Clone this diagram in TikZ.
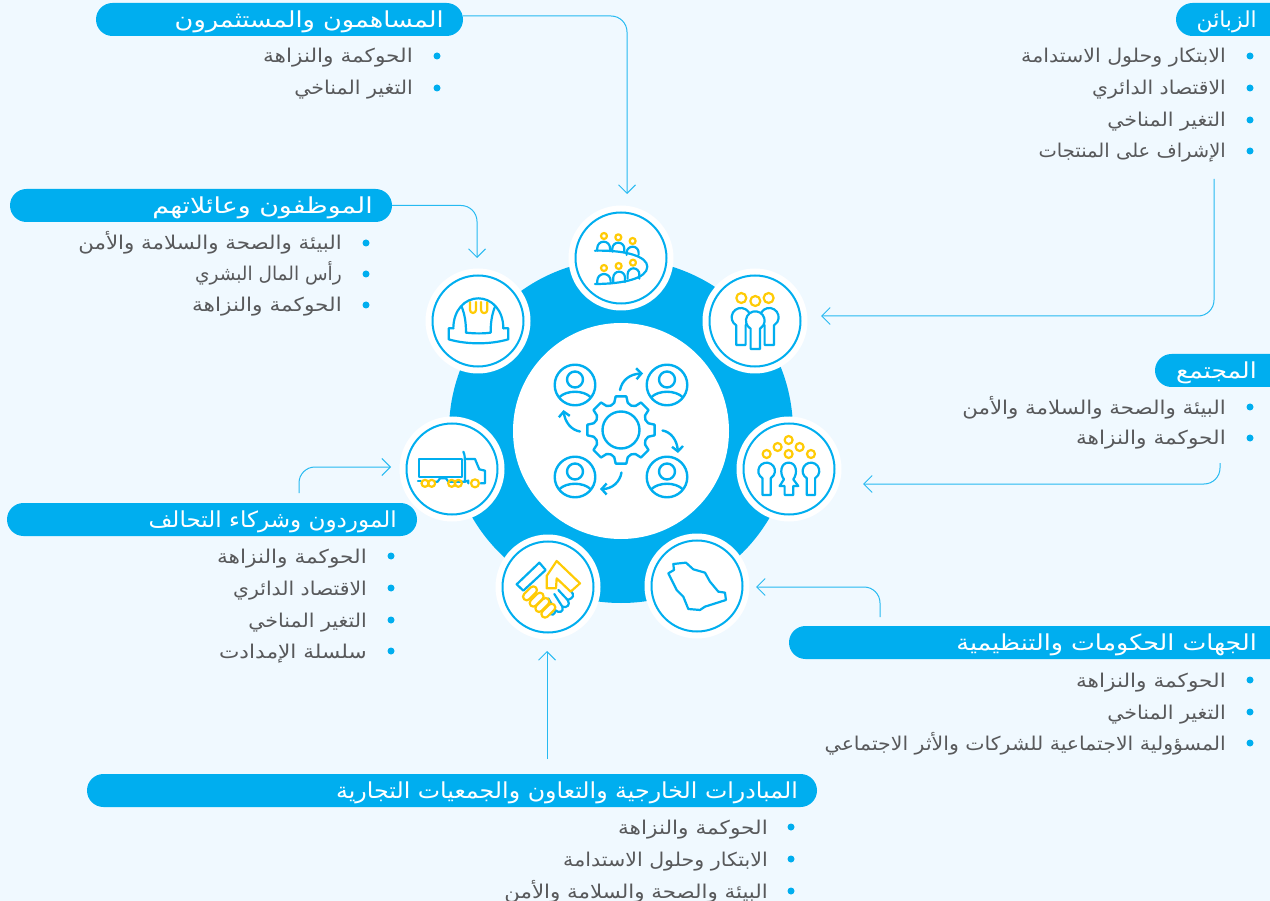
\documentclass[tikz,border=0pt]{standalone}
\usepackage{fontspec}
\usetikzlibrary{arrows.meta,calc}
\TeXXeTstate=1
\newfontfamily\arabicfont[Script=Arabic,FakeStretch=1.14]{DejaVu Sans}
\definecolor{bgc}{HTML}{F0F9FF}
\definecolor{bl}{HTML}{00AEEF}
\definecolor{yl}{HTML}{FFCB05}
\definecolor{tx}{HTML}{58595B}
\tikzset{
 x=1pt,y=-1pt,
 pillbox/.style={fill=bl,rounded corners=16.5pt,minimum height=33pt,inner sep=0pt,outer sep=0pt,anchor=north west},
 pilltext/.style={text=white,anchor=base east,inner sep=0pt,font=\arabicfont\fontsize{22}{25}\selectfont},
 itemtext/.style={text=tx,anchor=base east,inner sep=0pt,font=\arabicfont\fontsize{19}{22}\selectfont},
 dotm/.style={circle,fill=bl,minimum size=7pt,inner sep=0pt},
 halo/.style={circle,fill=white,minimum size=105pt,inner sep=0pt,outer sep=0pt},
 ringc/.style={circle,draw=bl,line width=2pt,minimum size=91pt,inner sep=0pt,outer sep=0pt},
 conn/.style={draw=bl!85!white,line width=1pt,rounded corners=16pt,-{Straight Barb[length=8.5pt,width=17pt,line width=1pt]}},
 ic/.style={draw=bl,line width=2.2pt,line join=round,line cap=round},
 iy/.style={draw=yl,line width=2.2pt,line join=round,line cap=round},
 ctr/.style={draw=bl,line width=2.4pt,line join=round,line cap=round},
 ctra/.style={ctr,-{Straight Barb[length=5pt,width=11pt,line width=2.4pt]}},
}
\newcommand\pill[6]{% name,x,y,width,textright,text
 \node[pillbox,minimum width=#4pt] (#1) at (#2,#3) {};
 \node[pilltext] (#1t) at (#5,#3+24.5) {#6};}
\newcommand\lstitem[5]{% name,bulletx,textright,y,text
 \node[dotm] (#1b) at (#2,#4) {};
 \node[itemtext] (#1t) at (#3,#4+7) {#5};}
\newcommand\hub[2]{% name, position
 \node[halo] (#1) at (#2) {};
 \node[ringc] (#1r) at (#2) {};}
\newcommand\keyh[5]{% cx cy r bottom style
 \draw[#5,fill=white] ({#1-.5*#3},#4) -- ({#1-.5*#3},{#2+.866*#3}) arc[start angle=120,end angle=420,radius=#3] -- ({#1+.5*#3},#4) -- cycle;}
\newcommand\archm[4]{% x1 x2 top base
 \draw[ic] (#1,#4) -- (#1,{#3+.5*(#2-#1)}) arc[start angle=180,end angle=360,radius={.5*(#2-#1)}] -- (#2,#4);}
\newcommand\persn[2]{%
 \draw[ctr] (#1,#2) circle[radius=20.3];
 \draw[ctr] (#1,#2-5.5) circle[radius=8];
 \draw[ctr] (#1-15.5,#2+12) .. controls (#1-8,#2+5) and (#1+8,#2+5) .. (#1+15.5,#2+12);}
\newcommand\sx[2]{\scalebox{#1}[1]{#2}}
\begin{document}
\begin{tikzpicture}
\useasboundingbox (0,0) rectangle (1270,901);
\fill[bgc] (0,0) rectangle (1270,901);
\begin{scope}
\clip (0,0) rectangle (1270,901);
% central ring
\node[circle,fill=bl,minimum size=344pt,inner sep=0pt] (ring) at (621,431) {};
\node[circle,fill=white,minimum size=216pt,inner sep=0pt] (core) at (621,431) {};
\hub{c1}{621,258}
\hub{c2}{755,321}
\hub{c3}{789,469}
\hub{c4}{697,586}
\hub{c5}{548,587}
\hub{c6}{452,469}
\hub{c7}{478,321}
% pills
\pill{p1}{96}{3}{367}{444}{\sx{1.02}{\beginR المساهمون والمستثمرون\endR}}
\pill{p2}{10}{189}{382}{373}{\sx{1.07}{\beginR الموظفون وعائلاتهم\endR}}
\pill{p3}{1176}{3}{120}{1257}{\sx{.87}{\beginR الزبائن\endR}}
\pill{p4}{1155}{354}{140}{1257}{\beginR المجتمع\endR}
\pill{p5}{7}{503}{410}{397}{\sx{.92}{\beginR الموردون وشركاء التحالف\endR}}
\pill{p6}{789}{626}{510}{1257}{\sx{1.01}{\beginR الجهات الحكومات والتنظيمية\endR}}
\pill{p7}{87}{774}{730}{798}{\sx{.945}{\beginR المبادرات الخارجية والتعاون والجمعيات التجارية\endR}}
% lists
\lstitem{a1}{437}{413}{56}{\beginR الحوكمة والنزاهة\endR}
\lstitem{a2}{437}{413}{88}{\sx{.95}{\beginR التغير المناخي\endR}}
\lstitem{b1}{366}{342}{243}{\sx{.985}{\beginR البيئة والصحة والسلامة والأمن\endR}}
\lstitem{b2}{366}{342}{274}{\sx{.855}{\beginR رأس المال البشري\endR}}
\lstitem{b3}{366}{342}{305}{\beginR الحوكمة والنزاهة\endR}
\lstitem{d1}{1250}{1226}{56}{\sx{.95}{\beginR الابتكار وحلول الاستدامة\endR}}
\lstitem{d2}{1250}{1226}{88}{\sx{.94}{\beginR الاقتصاد الدائري\endR}}
\lstitem{d3}{1250}{1226}{120}{\sx{.95}{\beginR التغير المناخي\endR}}
\lstitem{d4}{1250}{1226}{151}{\sx{.9}{\beginR الإشراف على المنتجات\endR}}
\lstitem{e1}{1250}{1226}{407}{\sx{.985}{\beginR البيئة والصحة والسلامة والأمن\endR}}
\lstitem{e2}{1250}{1226}{438}{\beginR الحوكمة والنزاهة\endR}
\lstitem{f1}{391}{367}{556}{\beginR الحوكمة والنزاهة\endR}
\lstitem{f2}{391}{367}{588}{\sx{.94}{\beginR الاقتصاد الدائري\endR}}
\lstitem{f3}{391}{367}{620}{\sx{.95}{\beginR التغير المناخي\endR}}
\lstitem{f4}{391}{367}{651}{\beginR سلسلة الإمدادت\endR}
\lstitem{g1}{1250}{1226}{680}{\beginR الحوكمة والنزاهة\endR}
\lstitem{g2}{1250}{1226}{712}{\sx{.95}{\beginR التغير المناخي\endR}}
\lstitem{g3}{1250}{1226}{743}{\sx{.945}{\beginR المسؤولية الاجتماعية للشركات والأثر الاجتماعي\endR}}
\lstitem{h1}{791}{768}{827}{\beginR الحوكمة والنزاهة\endR}
\lstitem{h2}{791}{768}{859}{\sx{.95}{\beginR الابتكار وحلول الاستدامة\endR}}
\lstitem{h3}{791}{768}{891}{\sx{.985}{\beginR البيئة والصحة والسلامة والأمن\endR}}
% connector free ends
\coordinate (e1a) at (627,194);
\coordinate (e2a) at (477,258);
\coordinate (s3) at (1214,179);
\coordinate (e3a) at (821,316);
\coordinate (s4) at (1220,463);
\coordinate (e4a) at (863,484);
\coordinate (s5) at (299,493);
\coordinate (e5a) at (391,467);
\coordinate (s6) at (880,617);
\coordinate (e6a) at (756,587);
\coordinate (s7) at (547,759);
\coordinate (e7a) at (547,651);
\draw[conn] ([yshift=3.5pt]p1.east) -| (e1a);
\draw[conn] (p2.east) -| (e2a);
\draw[conn] (s3) |- (e3a);
\draw[conn] (s4) |- (e4a);
\draw[conn] (s5) |- (e5a);
\draw[conn] (s6) |- (e6a);
\draw[conn] (s7) -- (e7a);
% centre icon
\persn{575}{385}\persn{667}{385}\persn{575}{477}\persn{667}{477}
\foreach \a in {-90,-45,...,225}{
 \draw[ctr] ($(621,430)+(\a-14:28)$) -- ($(621,430)+(\a-9:34)$) -- ($(621,430)+(\a+9:34)$) -- ($(621,430)+(\a+14:28)$)
   .. controls ($(621,430)+(\a+20:26)$) and ($(621,430)+(\a+25:26)$) .. ($(621,430)+(\a+31:28)$);
}
\draw[ctr] (621,430) circle[radius=18.5];
\draw[ctra] (620,390) .. controls (622,380) and (630,374) .. (643,373.5);
\draw[ctra] (662.5,430.5) .. controls (671,432) and (677,440) .. (678,453);
\draw[ctra] (621.5,472.5) .. controls (620,482) and (612,489) .. (600,489);
\draw[ctra] (580,431.5) .. controls (571,430) and (565,422) .. (563.5,410);
% audience icon
\begin{scope}[shift={(400,200)},scale=.3333]
 \foreach \u/\v in {612/108,655/112,698/123,612/204,656/198,699/188}
  \draw[iy] (\u,\v) circle[radius=9];
 \archm{592}{630}{125}{152}
 \archm{637}{673}{128}{155}
 \archm{680}{716}{140}{165}
 \archm{592}{632}{222}{250}
 \archm{640}{675}{215}{246}
 \archm{683}{718}{205}{236}
 \draw[ic] (585,152) .. controls (680,150) and (742,170) .. (742,200) .. controls (742,235) and (670,252) .. (585,252);
% helmet
 \draw[iy] (210,306) -- (210,330) arc[start angle=180,end angle=0,radius=9] -- (228,306);
 \draw[iy] (243,306) -- (243,330) arc[start angle=180,end angle=0,radius=9.5] -- (262,306);
 \draw[ic] (160,385) .. controls (160,330) and (195,295) .. (235,295) .. controls (275,295) and (310,330) .. (310,385);
 \draw[ic] (185,320) .. controls (195,345) and (198,370) .. (198,398) .. controls (225,401) and (250,401) .. (272,398) .. controls (272,370) and (275,345) .. (285,320);
 \draw[ic] (160,385) -- (146,385) -- (146,418) .. controls (200,434) and (270,434) .. (325,418) -- (325,385) -- (310,385);
% three people
 \foreach \u/\v in {1024/294,1066/303,1106/294}
  \draw[iy] (\u,\v) circle[radius=15];
 \keyh{1023}{352}{28}{435}{ic}
 \keyh{1108}{352}{28}{435}{ic}
 \keyh{1066}{362}{28}{447}{ic}
\end{scope}
\begin{scope}[shift={(400,410)},scale=.3333]
% community
 \foreach \u/\v in {1166/90,1133/111,1199/111,1100/132,1166/132,1233/132}
  \draw[iy] (\u,\v) circle[radius=12];
 \keyh{1100}{183}{25}{255}{ic}
 \keyh{1233}{183}{25}{255}{ic}
 \draw[ic] (1152,208) .. controls (1138,190) and (1142,158) .. (1166,158) .. controls (1190,158) and (1194,190) .. (1180,208) -- (1195,228) -- (1180,228) -- (1180,255) -- (1154,255) -- (1154,228) -- (1139,228) -- cycle;
% map
 \draw[ic] (820,462) -- (858,458) -- (880,478) -- (915,488) -- (930,515) -- (955,545) -- (975,548) -- (978,570) -- (915,590) -- (900,600) -- (865,597) -- (850,560) -- (830,540) -- (805,490) -- (822,480) -- cycle;
\end{scope}
% truck
\begin{scope}[shift={(410,440)},scale=.3333]
 \draw[ic] (28,57) rectangle (155,112);
 \draw[ic] (160,35) .. controls (165,45) and (165,50) .. (165,125);
 \draw[ic] (165,57) -- (195,57) -- (208,88) -- (225,92) -- (225,130) -- (212,130);
 \draw[ic] (175,130) -- (175,122) -- (165,125) -- (115,125) -- (108,115) -- (90,115) -- (83,125) -- (75,125);
 \draw[ic] (24,122) -- (32,122);
 \foreach \u in {45,65,125,145}
  \draw[iy] (\u,130) circle[radius=10.5];
 \draw[iy] (195,130) circle[radius=12];
\end{scope}
% handshake
\begin{scope}[shift={(505,550)},scale=.3333]
 \draw[ic] (35,103) -- (103,38) -- (122,60) -- (55,122) -- cycle;
 \draw[ic] (197,122) .. controls (210,135) and (205,145) .. (188,150) .. controls (198,165) and (185,175) .. (172,170) .. controls (178,188) and (160,190) .. (150,180) .. controls (152,195) and (140,198) .. (130,188);
 \draw[ic] (160,120) -- (188,150);
 \draw[ic] (148,132) -- (172,170);
 \draw[ic] (130,145) -- (150,180);
 \draw[iy,fill=white] (125,78) -- (155,33) -- (225,100) -- (197,125) -- (155,85) -- (153,115) -- (125,115) -- cycle;
 \foreach \u/\v in {75/130,95/149,112/165,130/182}
  \draw[iy,fill=white,rounded corners=3.6pt,rotate around={45:(\u,\v)}] (\u-25,\v-11) rectangle (\u+25,\v+11);
\end{scope}
\end{scope}
\end{tikzpicture}
\end{document}
